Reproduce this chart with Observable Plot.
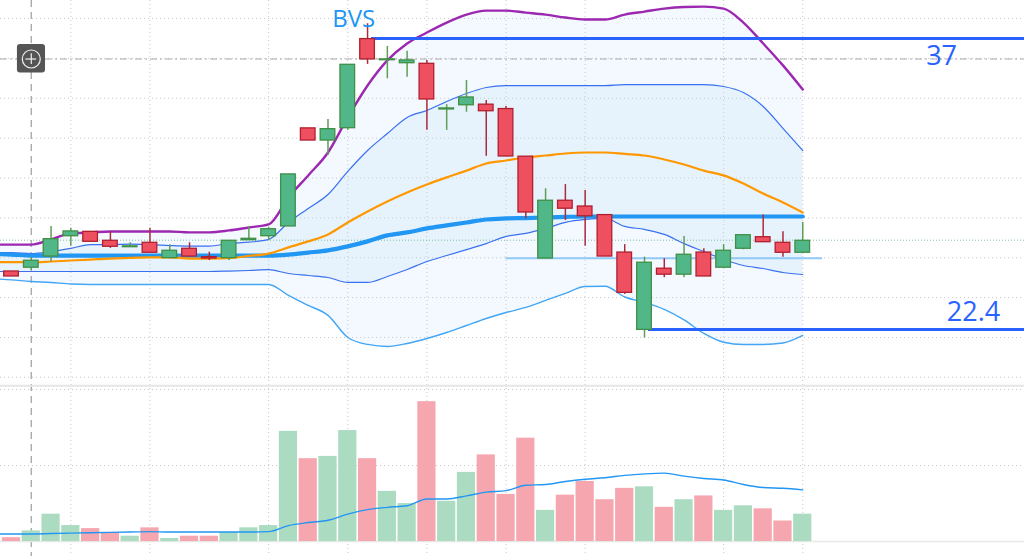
<!DOCTYPE html>
<html>
<head>
<meta charset="utf-8">
<script src="https://cdn.jsdelivr.net/npm/d3@7"></script>
<script src="https://cdn.jsdelivr.net/npm/@observablehq/plot@0.6"></script>
<style>
html,body{margin:0;padding:0;background:#fff;overflow:hidden}
svg{display:block}
#chart{width:1024px;height:556px;overflow:hidden}
</style>
</head>
<body>
<div id="chart"></div>
<script>
const direction = "rgggrrgrgrrggggrggrggrggrrrgrrrrgrgrggrrg".split("");
const bodyTop = [25.31,25.85,26.93,27.32,27.30,26.85,26.57,26.75,26.35,26.45,26.03,26.85,26.95,27.43,30.18,32.49,32.45,35.68,36.97,35.95,35.90,35.73,33.49,34.04,33.68,33.46,31.07,28.86,28.86,28.57,28.14,26.26,25.75,25.45,26.15,26.26,26.35,27.13,27.03,26.75,26.85];
const bodyBottom = [25.06,25.50,26.06,27.08,26.80,26.55,26.53,26.25,25.98,26.06,25.96,25.98,26.88,27.08,27.57,31.88,31.88,32.50,35.95,35.91,35.76,33.94,33.44,33.65,33.35,31.08,28.27,25.96,28.46,28.08,26.06,24.24,22.38,25.15,25.15,25.06,25.50,26.45,26.78,26.25,26.25];
const high = [25.31,26.02,27.57,27.48,27.30,27.28,26.75,27.48,26.65,26.75,26.28,26.85,27.57,27.53,30.18,32.49,32.94,35.68,37.74,36.60,36.36,35.90,33.68,34.89,33.89,33.59,31.07,29.46,29.67,29.37,28.14,26.66,26.03,25.95,27.07,26.45,26.66,27.13,28.15,27.30,27.77];
const low = [25.06,25.36,25.78,26.57,26.80,26.47,26.52,26.25,25.95,26.03,25.86,25.86,26.87,26.87,27.57,31.88,31.13,32.39,35.70,34.98,35.06,32.39,32.39,33.30,31.09,31.08,27.95,25.96,27.87,26.57,26.06,24.16,21.97,25.00,25.00,25.06,25.50,26.40,26.78,26.03,26.20];

// Indicator series start one bar earlier than the candles (bar -1, just off the left edge).
const purpleBand = [26.66,26.66,26.66,26.92,27.22,27.27,27.32,27.32,27.32,27.32,27.27,27.27,27.37,27.52,27.67,29.02,30.13,31.28,33.04,34.64,35.90,36.75,37.30,37.80,38.20,38.40,38.40,38.30,38.20,38.05,37.95,37.95,38.20,38.35,38.50,38.58,38.60,38.50,37.80,36.75,35.65,34.44];
const upperBand = [26.26,26.26,26.21,26.31,26.47,26.66,26.66,26.68,26.66,26.61,26.58,26.58,26.71,26.78,26.92,27.77,28.47,29.17,30.33,31.38,32.23,33.04,33.39,33.84,34.24,34.54,34.64,34.64,34.64,34.64,34.64,34.64,34.69,34.69,34.69,34.69,34.69,34.59,34.29,33.59,32.49,31.38];
const orangeLine = [25.78,25.78,25.77,25.81,25.86,25.91,25.96,25.99,26.02,26.02,25.96,25.96,25.98,26.09,26.21,26.52,26.82,27.17,27.77,28.32,28.82,29.27,29.67,30.03,30.37,30.73,30.88,31.03,31.13,31.23,31.28,31.28,31.21,31.13,30.93,30.68,30.37,30.13,29.72,29.22,28.77,28.27];
const thickLine = [26.18,26.16,26.11,26.11,26.11,26.11,26.11,26.11,26.11,26.11,26.11,26.11,26.11,26.11,26.11,26.16,26.26,26.37,26.57,26.82,27.12,27.27,27.47,27.62,27.77,27.92,27.97,27.99,28.02,28.05,28.07,28.07,28.07,28.07,28.07,28.07,28.07,28.07,28.07,28.07,28.07,28.07];
const lowerBand = [25.31,25.31,25.31,25.31,25.31,25.31,25.31,25.31,25.31,25.31,25.31,25.31,25.33,25.36,25.40,25.21,25.11,25.01,24.76,24.76,25.06,25.41,25.81,26.11,26.41,26.71,27.07,27.22,27.47,27.77,27.92,27.97,27.57,27.42,27.17,26.71,26.31,25.91,25.61,25.46,25.26,25.16];
const lowestBand = [24.95,24.89,24.81,24.76,24.68,24.66,24.66,24.66,24.66,24.66,24.66,24.66,24.66,24.66,24.66,24.11,23.61,23.11,22.00,21.65,21.55,21.70,21.95,22.25,22.60,22.95,23.25,23.51,23.86,24.21,24.56,24.57,24.03,23.76,23.41,22.88,22.20,21.76,21.65,21.65,21.72,22.10];
const volumeAvg = [.10,.10,.10,.105,.11,.115,.12,.125,.13,.125,.125,.125,.125,.125,.13,.21,.25,.28,.36,.42,.45,.47,.56,.56,.60,.65,.67,.74,.75,.79,.82,.84,.87,.89,.90,.86,.83,.81,.75,.71,.70,.68];

const volume = [.05,.14,.36,.21,.17,.12,.07,.18,.04,.07,.07,.12,.18,.21,1.45,1.09,1.12,1.46,1.09,.66,.50,1.84,.53,.91,1.14,.62,1.36,.41,.61,.79,.55,.70,.72,.45,.55,.60,.41,.47,.43,.27,.36];

const priceGrid = [20,22,24,26,28,30,32,34,36,38];
const volumeGrid = [1,2];
const timeGrid = [3,7,13,17,21,25,29,36,40];
const levels = [{label:"37", price:37, from:18.2, tx:47.02, ty:36.1},{label:"22.4", price:22.4, from:32.2, tx:48.63, ty:23.25}];
const bars = direction.map((d,i)=>({i,d,top:bodyTop[i],bottom:bodyBottom[i],high:high[i],low:low[i],vol:volume[i]}));
const series = purpleBand.map((p,k)=>({i:k-1,purple:p,upper:upperBand[k],orange:orangeLine[k],thick:thickLine[k],lower:lowerBand[k],lowest:lowestBand[k],avg:volumeAvg[k]}));

const xDomain = [-0.556, 51.21];
const CURVE = "monotone-x";
const GREEN="#52b788", GREEN_EDGE="#3f8f45", GREEN_WICK="#5f9f55";
const RED="#ef5060", RED_EDGE="#b01f30", RED_WICK="#ab2a3c";
const GRID={stroke:"#c8c8c8",strokeWidth:1,strokeDasharray:"1,3"};
const CROSS={stroke:"#aaaaaf",strokeWidth:1.4,strokeDasharray:"7,5"};
const crossPrice = 35.97, crossBar = 1;

const pricePane = Plot.plot({
  width:1024,height:384,margin:0,
  x:{type:"linear",domain:xDomain,axis:null},
  y:{type:"linear",domain:[19.64,38.906],axis:null},
  marks:[
    Plot.areaY(series,{x:"i",y1:"lowest",y2:"purple",fill:"#f3f9fe",curve:CURVE}),
    Plot.areaY(series,{x:"i",y1:"lower",y2:"upper",fill:"#e6f3fc",curve:CURVE}),
    Plot.ruleY(priceGrid,GRID),
    Plot.ruleX(timeGrid,GRID),
    Plot.ruleY([26.88],{stroke:"#7fc09a",strokeWidth:1,strokeDasharray:"1,2"}),
    Plot.ruleY([crossPrice],{stroke:"#aaaaaf",strokeWidth:1.2,strokeDasharray:"7,3,2,3"}),
    Plot.ruleX([crossBar],CROSS),
    Plot.line(series,{x:"i",y:"lowest",stroke:"#42a5f5",strokeWidth:1.4,curve:CURVE}),
    Plot.line(series,{x:"i",y:"lower",stroke:"#3a70f0",strokeWidth:1.2,curve:CURVE}),
    Plot.line(series,{x:"i",y:"upper",stroke:"#3a70f0",strokeWidth:1.2,curve:CURVE}),
    Plot.line(series,{x:"i",y:"thick",stroke:"#2196f3",strokeWidth:4.2,curve:CURVE}),
    Plot.line(series,{x:"i",y:"orange",stroke:"#ff9800",strokeWidth:2.2,curve:CURVE}),
    Plot.line(series,{x:"i",y:"purple",stroke:"#9c27b0",strokeWidth:2.4,curve:CURVE}),
    Plot.ruleY([25.98],{x1:25,x2:41,stroke:"#90caf9",strokeWidth:2}),
    Plot.ruleY(levels,{y:"price",x1:"from",x2:()=>xDomain[1],stroke:"#2962ff",strokeWidth:3}),
    Plot.ruleX(bars,{x:"i",y1:"low",y2:"high",stroke:d=>d.d==="g"?GREEN_WICK:RED_WICK,strokeWidth:1.5}),
    Plot.rect(bars,{x1:d=>d.i-0.37,x2:d=>d.i+0.37,y1:"bottom",y2:"top",fill:d=>d.d==="g"?GREEN:RED,stroke:d=>d.d==="g"?GREEN_EDGE:RED_EDGE,strokeWidth:1.3}),
    Plot.text(levels,{x:"tx",y:"ty",text:"label",fill:"#2962ff",fontSize:27,fontFamily:"Open Sans",textAnchor:"middle"}),
    Plot.text(["BVS"],{x:[17.3],y:[37.95],text:d=>d,fill:"#2196f3",fontSize:24,fontFamily:"Open Sans",textAnchor:"middle"}),
    Plot.rect([0],{x1:[0.3],x2:[1.72],y1:[35.27],y2:[36.7],fill:"#555555",rx:3}),
    Plot.dot([0],{x:[crossBar],y:[crossPrice],r:9,stroke:"#f0f0f0",strokeWidth:1.2,fill:"none"}),
    Plot.ruleX([crossBar],{y1:crossPrice-0.27,y2:crossPrice+0.27,stroke:"#f0f0f0",strokeWidth:1.2}),
    Plot.ruleY([crossPrice],{x1:crossBar-0.27,x2:crossBar+0.27,stroke:"#f0f0f0",strokeWidth:1.2})
  ]
});

const volumePane = Plot.plot({
  width:1024,height:172,margin:0,
  x:{type:"linear",domain:xDomain,axis:null},
  y:{type:"linear",domain:[-0.197,2.066],axis:null},
  marks:[
    Plot.ruleY(volumeGrid,GRID),
    Plot.ruleX(timeGrid,GRID),
    Plot.ruleX([crossBar],CROSS),
    Plot.ruleY([2.05],{stroke:"#e6e6e6",strokeWidth:2}),
    Plot.ruleY([0],{stroke:"#e8e8e8",strokeWidth:1.5}),
    Plot.rect(bars,{x1:d=>d.i-0.46,x2:d=>d.i+0.46,y1:0,y2:"vol",fill:d=>d.d==="g"?"#abdcc1":"#f6a6ae"}),
    Plot.line(series,{x:"i",y:"avg",stroke:"#2196f3",strokeWidth:1.4,curve:CURVE})
  ]
});
document.getElementById("chart").append(pricePane,volumePane);
</script>
</body>
</html>
